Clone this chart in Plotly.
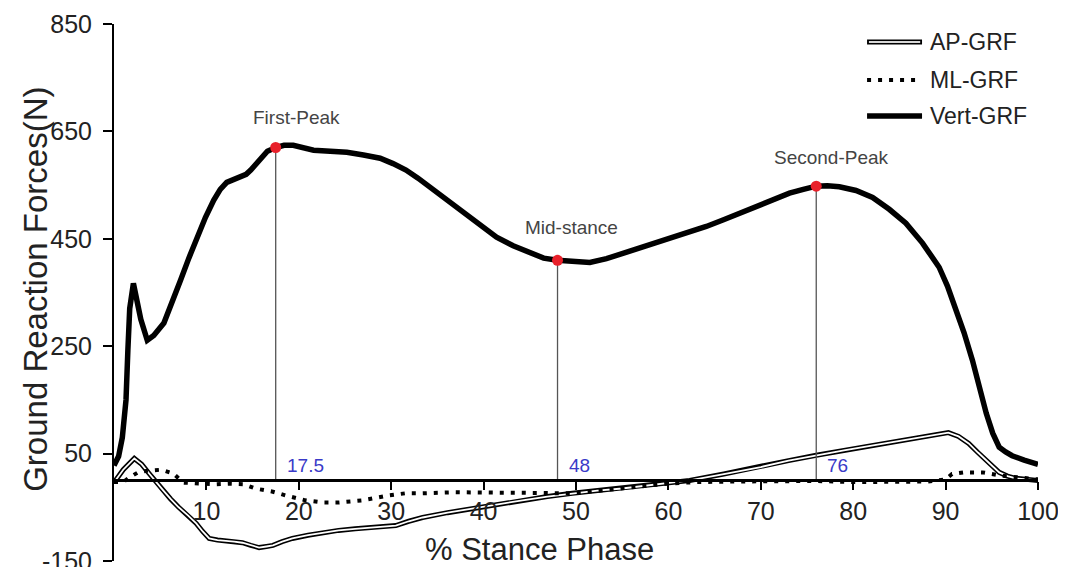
import plotly.graph_objects as go

# ---------------- data ----------------
vert_x = [0.0, 0.5, 0.9, 1.3, 1.5, 1.7, 2.1, 2.4, 2.9, 3.6, 4.3, 5.4, 6.3, 7.2, 8.1, 9.0,
          9.9, 10.8, 11.5, 12.2, 13.0, 13.7, 14.3, 14.8, 15.4, 15.9, 16.6, 17.5, 18.4,
          19.4, 20.5, 21.6, 23.4, 25.2, 27.0, 28.8, 30.2, 31.6, 32.9, 34.2, 36.0, 37.8,
          39.6, 41.4, 43.2, 45.0, 46.5, 48.0, 49.7, 51.5, 53.3, 55.1, 56.9, 58.7, 60.5,
          62.3, 64.1, 65.9, 67.7, 69.5, 71.3, 73.1, 74.6, 76.0, 77.2, 78.5, 80.3, 82.1,
          83.9, 85.7, 87.5, 89.3, 90.2, 91.1, 92.0, 92.9, 93.7, 94.4, 95.1, 95.8, 96.5,
          97.2, 98.5, 100.0]
vert_v = [28, 45, 80, 150, 242, 320, 367, 345, 300, 261, 270, 293, 330, 373, 414, 453,
          490, 522, 542, 555, 561, 565, 570, 578, 590, 602, 613, 620, 624,
          624, 619, 615, 613, 611, 606, 600, 590, 578, 563, 546, 522, 498,
          475, 453, 437, 423, 414, 410, 407, 406, 413, 423, 432, 441, 451,
          462, 473, 485, 497, 509, 522, 535, 542, 548, 549, 547, 540, 527,
          505, 479, 442, 397, 362, 322, 275, 224, 170, 125, 88, 62, 53,
          46, 38, 30]

ap_x = [0.0, 1.0, 2.2, 3.0, 3.8, 4.5, 5.3, 6.1, 7.0, 8.0, 8.9, 9.6, 10.3, 11.2, 12.1,
        13.0, 13.9, 14.8, 15.7, 16.5, 17.2, 18.2, 19.3, 21.0, 22.6, 24.3, 26.1, 28.3,
        30.5, 31.9, 33.4, 36.1, 38.8, 41.5, 44.2, 46.9, 49.6, 52.3, 55.0, 58.6, 62.3,
        66.0, 70.0, 73.0, 76.0, 79.0, 82.0, 85.0, 88.0, 89.3, 90.3, 91.4, 92.5, 93.5,
        94.4, 95.1, 95.8, 96.7, 97.6, 100.0]
ap_v = [-4, 20, 41, 30, 13, -2, -18, -34, -50, -65, -80, -95, -108, -111, -112,
        -114, -116, -121, -125, -123, -121, -114, -108, -102, -97, -93, -90, -87,
        -84, -76, -69, -60, -52, -44, -37, -30, -24, -19, -15, -8, 0,
        12, 25, 37, 47, 56, 65, 74, 83, 87, 89, 82, 69, 52,
        37, 25, 15, 8, 4, 0]

ml_x = [0.0, 1.0, 1.6, 2.6, 3.6, 5.1, 6.4, 7.5, 9.5, 11.0, 12.5, 14.0, 15.3, 17.2,
        18.6, 20.7, 22.6, 24.3, 26.9, 28.6, 29.7, 31.5, 33.4, 36.9, 40.0, 44.0, 49.6,
        53.0, 56.5, 59.8, 63.0, 67.0, 72.0, 76.0, 80.0, 84.0, 88.0, 90.0, 90.7, 92.0,
        94.0, 96.0, 98.0, 100.0]
ml_v = [-3, -3, 5, 15, 18, 20, 13, -4, -6, -7, -6, -7, -15, -21,
        -28, -37, -41, -41, -37, -31, -28, -24, -24, -22, -22, -23, -24,
        -19, -12, -6, -3, -2, -2, -1, -3, -3, -2, 2, 12, 15,
        15, 9, 5, 2]

peak_x = [17.5, 48, 76]
peak_v = [620, 410, 548]
peak_names = ["First-Peak", "Mid-stance", "Second-Peak"]
peak_labels = ["17.5", "48", "76"]

x_ticks = [10, 20, 30, 40, 50, 60, 70, 80, 90, 100]
y_ticks = [-150, 50, 250, 450, 650, 850]
y_tick_text = ["-150", "50", "250", "450", "650", "850"]

legend_names = ["AP-GRF", "ML-GRF", "Vert-GRF"]

# ---------------- styling ----------------
FONT = "Liberation Sans, Arial, sans-serif"
name_shift = [(21, 30), (14, 33), (15, 29)]   # (x px, y px) offsets of peak names

fig = go.Figure()

# AP-GRF as a double line: black outer, white inner
fig.add_trace(go.Scatter(x=ap_x, y=ap_v, mode="lines",
                         line=dict(color="black", width=5), hoverinfo="skip",
                         showlegend=False))
fig.add_trace(go.Scatter(x=ap_x, y=ap_v, mode="lines", name="AP-GRF",
                         line=dict(color="white", width=1.8), showlegend=False))
# ML-GRF dotted
fig.add_trace(go.Scatter(x=ml_x, y=ml_v, mode="lines", name="ML-GRF",
                         line=dict(color="black", width=4, dash="4px,7px"),
                         showlegend=False))
# Vert-GRF thick
fig.add_trace(go.Scatter(x=vert_x, y=vert_v, mode="lines", name="Vert-GRF",
                         line=dict(color="black", width=5.5), showlegend=False))

# vertical guide lines from the zero line up to each marked point
vx, vy = [], []
for px, pv in zip(peak_x, peak_v):
    vx += [px, px, None]
    vy += [0, pv, None]
fig.add_trace(go.Scatter(x=vx, y=vy, mode="lines",
                         line=dict(color="#555555", width=1.3),
                         hoverinfo="skip", showlegend=False))
# red points
fig.add_trace(go.Scatter(x=peak_x, y=peak_v, mode="markers",
                         marker=dict(color="#e8202a", size=11),
                         showlegend=False))

annotations = []
for (px, pv, nm, lb, (dx, dy)) in zip(peak_x, peak_v, peak_names, peak_labels, name_shift):
    annotations.append(dict(x=px, y=pv, xref="x", yref="y", text=nm, showarrow=False,
                            xanchor="center", yanchor="middle", xshift=dx, yshift=dy,
                            font=dict(family=FONT, size=19, color="#444444")))
    annotations.append(dict(x=px, y=0, xref="x", yref="y", text=lb, showarrow=False,
                            xanchor="left", yanchor="bottom", xshift=9, yshift=2,
                            font=dict(family=FONT, size=19, color="#3a3ac8")))

# axis titles
annotations.append(dict(x=0.46, y=0.022, xref="paper", yref="paper",
                        text="% Stance Phase", showarrow=False,
                        xanchor="center", yanchor="middle",
                        font=dict(family=FONT, size=31, color="#222222")))
annotations.append(dict(x=-0.0844, y=0.505, xref="paper", yref="paper",
                        text="Ground Reaction Forces(N)", showarrow=False, textangle=-90,
                        xanchor="center", yanchor="middle",
                        font=dict(family=FONT, size=33, color="#222222")))

# manual legend (double line for AP-GRF)
shapes = []
leg_y = [0.9665, 0.8956, 0.8285]
x0, x1, xt = 0.815, 0.8745, 0.881
shapes.append(dict(type="line", xref="paper", yref="paper", x0=x0, x1=x1,
                   y0=leg_y[0], y1=leg_y[0], line=dict(color="black", width=5)))
shapes.append(dict(type="line", xref="paper", yref="paper", x0=x0 + 0.002, x1=x1 - 0.002,
                   y0=leg_y[0], y1=leg_y[0], line=dict(color="#d8d8d8", width=2)))
shapes.append(dict(type="line", xref="paper", yref="paper", x0=x0, x1=x1,
                   y0=leg_y[1], y1=leg_y[1],
                   line=dict(color="black", width=4, dash="4px,7px")))
shapes.append(dict(type="line", xref="paper", yref="paper", x0=x0, x1=x1,
                   y0=leg_y[2], y1=leg_y[2], line=dict(color="black", width=5.5)))
for ly, nm in zip(leg_y, legend_names):
    annotations.append(dict(x=xt, y=ly, xref="paper", yref="paper", text=nm,
                            showarrow=False, xanchor="left", yanchor="middle",
                            font=dict(family=FONT, size=23, color="#222222")))

# the page body adds an 8 px offset, so the figure is sized to compensate
fig.update_layout(
    width=1058, height=559,
    margin=dict(l=106, r=28, t=16, b=6),
    paper_bgcolor="white", plot_bgcolor="white",
    font=dict(family=FONT, color="#222222"),
    xaxis=dict(range=[0, 100], anchor="free", position=0.15, automargin=False,
               showline=True, linecolor="black", linewidth=3,
               ticks="outside", ticklen=8, tickwidth=2, tickcolor="black",
               tickvals=x_ticks, tickfont=dict(size=25, family=FONT, color="#222222"),
               showgrid=False, zeroline=False),
    yaxis=dict(range=[-150, 850], automargin=False,
               showline=True, linecolor="black", linewidth=2,
               ticks="outside", ticklen=9, tickwidth=2, tickcolor="black",
               tickvals=y_ticks, ticktext=y_tick_text,
               tickfont=dict(size=25, family=FONT, color="#222222"),
               ticklabelstandoff=6, ticklabeloverflow="allow",
               showgrid=False, zeroline=False),
    annotations=annotations,
    shapes=shapes,
    showlegend=False,
)

fig.write_html("out.html")
